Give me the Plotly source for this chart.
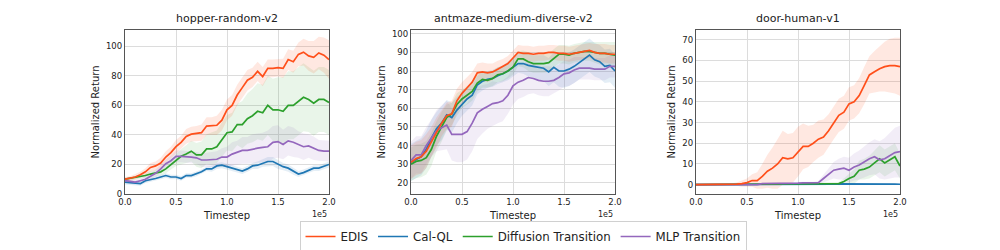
import plotly.graph_objects as go

TIMESTEPS = [i * 0.05 for i in range(41)]  # in units of 1e5

METHODS = ["EDIS", "Cal-QL", "Diffusion Transition", "MLP Transition"]
COLORS = {"EDIS": "#ff4f1a", "Cal-QL": "#1f77b4",
          "Diffusion Transition": "#2ca02c", "MLP Transition": "#9467bd"}
FILLS = {"EDIS": "rgba(255,79,26,0.13)", "Cal-QL": "rgba(31,119,180,0.12)",
         "Diffusion Transition": "rgba(44,160,44,0.10)", "MLP Transition": "rgba(148,103,189,0.12)"}

TITLES = ["hopper-random-v2", "antmaze-medium-diverse-v2", "door-human-v1"]

# ---------------- hopper-random-v2 ----------------
hopper_edis = [10, 10.5, 11.5, 13, 15, 18, 19, 21, 25, 28, 32, 35, 39, 40.5, 41, 41.5, 46, 46, 46.5, 50,
               57, 60, 67, 72, 77, 79, 83, 79.5, 85, 85, 85.5, 85, 91, 89.5, 94.5, 96, 93.5, 92.5, 95.5, 94, 91]
hopper_edis_std = [1.5, 1.5, 2, 2, 2.5, 3, 3, 3.5, 4, 4, 4.5, 4.5, 5, 5, 5, 5.5, 6, 6, 6.5, 7,
                   7, 7, 7, 7, 7, 6.5, 6.5, 6.5, 6, 6, 6, 6.5, 7, 7.5, 8, 9, 10, 11, 11, 12, 13]
hopper_calql = [8, 7.5, 7.5, 7, 9, 9.5, 10.5, 11.5, 12.5, 11.5, 11.5, 10.5, 12.5, 12.5, 13.5, 15, 17, 17, 19, 19.5,
                18.5, 17.5, 16.5, 15.5, 17, 19, 19.5, 21, 22, 22, 20, 18.5, 17.5, 15.5, 13.5, 14.5, 16, 17.5, 17.5, 19, 20]
hopper_calql_std = [1.5, 1.5, 1.5, 1.5, 1.5, 1.5, 1.5, 1.5, 1.5, 1.5, 1.5, 1.5, 1.5, 1.5, 1.5, 1.5, 1.5, 2, 2, 2,
                    2, 2, 2, 2, 2, 2, 2.5, 2.5, 3, 3, 3, 2.5, 2.5, 2.5, 2, 2, 2, 2, 2, 2, 2]
hopper_diff = [10, 10.5, 11, 12, 12.5, 13.5, 14, 15, 17, 20, 23, 25.5, 27, 29, 26.5, 26.5, 30.5, 30.5, 32, 37,
               41.5, 42, 47, 47, 51, 53, 56, 55, 60, 57, 57, 56, 60, 60, 63, 65.5, 64, 61.5, 64, 64, 62]
hopper_diff_std = [1, 1, 1, 1.5, 1.5, 2, 2, 2.5, 3, 3.5, 4, 5, 6, 7, 8, 9, 10, 11, 11, 11.5,
                   12, 13, 14, 16, 17, 18, 19, 19, 20, 21, 22, 23, 23, 23, 23, 23, 22, 22, 22, 22, 22]
hopper_mlp = [9, 8.5, 8, 9, 10, 12, 14, 17, 20.5, 22.5, 25.5, 25.5, 25.5, 25, 24.5, 23, 23, 23.5, 23.5, 25,
              25, 27, 28, 29.5, 29.5, 30.5, 31, 31.5, 32, 35, 35.5, 33.5, 36, 35, 33.5, 32, 32.5, 31, 29.5, 29, 29]
hopper_mlp_std = [1.5, 1.5, 1.5, 1.5, 2, 2, 2.5, 3, 3, 3.5, 4, 4, 4, 4, 4, 4.5, 5, 5, 5.5, 6,
                  7, 8, 8, 9, 9, 10, 10, 10, 11, 11, 11, 10, 10, 10, 9, 9, 8, 8, 7, 7, 7]

# ---------------- antmaze-medium-diverse-v2 ----------------
ant_edis = [31, 33, 34, 37, 42, 47, 52, 56, 57, 64, 68, 71, 74, 79, 79.5, 79, 79.5, 81, 82.5, 84,
            87, 90, 89.5, 89.5, 89, 89.5, 89.5, 90, 90, 89.5, 89.5, 89, 89.5, 90, 90.5, 91, 90, 89.5, 89.5, 89, 89]
ant_edis_std = [9, 9, 9, 9, 8, 8, 7, 7, 7, 6.5, 6, 6, 5.5, 5, 5, 5, 4.5, 4.5, 4, 4,
                4, 4, 4, 4, 4, 4, 4, 4, 4, 4, 4, 4, 4, 4, 4, 4, 4.5, 5, 5, 5, 5]
ant_calql = [31, 32.5, 34, 38, 44, 49, 52, 56.5, 55, 59, 62, 65, 67, 72.5, 74.5, 75.5, 76, 77.5, 78.5, 80,
             82, 84, 84, 83, 82.5, 82, 81.5, 79.5, 82, 80, 80, 81, 82.5, 84.5, 86.5, 88.5, 86, 85, 82.5, 83, 80]
ant_calql_std = [10, 10, 10, 10, 10, 9, 9, 8, 8, 7, 6, 6, 5.5, 5, 5, 4.5, 4.5, 4.5, 4.5, 5,
                 5, 5, 5.5, 6, 6, 6.5, 7, 7.5, 8, 8.5, 9, 9, 9, 9, 9, 9, 9, 9, 9, 9, 9]
ant_diff = [30, 31.5, 32, 33.5, 38, 45, 50, 55, 57, 62, 65, 67, 69, 73.5, 75.5, 75, 76, 78, 78.5, 80,
            82, 86.5, 86.5, 85, 84, 84, 84, 84.5, 87, 89, 89, 88.5, 89.5, 90, 90.5, 90.5, 90, 89.5, 89.5, 89, 88.5]
ant_diff_std = [9, 9, 9, 9, 9, 8, 8, 7, 6, 6, 5, 5, 5, 4.5, 4.5, 4, 4, 4, 4, 4,
                4, 4, 4.5, 5, 5, 5, 5, 5, 5, 5, 5, 5, 5, 5, 5, 5, 5.5, 6, 6, 6.5, 7]
ant_mlp = [32, 35, 35, 40, 44, 48, 49.5, 51, 46, 46, 46, 47.5, 52, 57.5, 59.5, 61, 62.5, 63, 64, 67,
           72, 74, 75, 76.5, 76, 75, 74.5, 74.5, 75, 76.5, 78.5, 79, 80.5, 81.5, 81.5, 81.5, 81, 81, 81, 82.5, 82.5]
ant_mlp_std = [10, 10, 10, 10, 10, 11, 12, 13, 14, 15, 15, 15, 15, 14, 13, 12, 12, 11, 11, 10,
               10, 9, 9, 9, 8, 8, 8, 8, 7, 7, 7, 7, 7, 6, 6, 6, 6, 6, 6, 6, 6]

# ---------------- door-human-v1 ----------------
door_edis = [0, 0, 0, 0, 0, 0, 0.1, 0.2, 0.3, 0.5, 1, 2, 2, 4, 6.5, 8, 10, 13, 12.5, 13,
             16, 18.5, 18.5, 20, 22, 23, 26, 30, 33.5, 35, 39, 40, 43, 48, 53, 54.5, 56, 57, 57.5, 57.5, 57]
door_edis_std = [0.1, 0.1, 0.1, 0.1, 0.2, 0.3, 0.3, 0.5, 0.8, 1.5, 2, 3, 4, 6, 8, 10, 12, 13, 12, 12,
                 12, 11, 10, 9, 9, 8.5, 8, 8, 8, 8, 8, 8, 8.5, 9, 9, 10, 11, 12, 13, 13.5, 14]
door_calql = [0, 0, 0, 0, 0, 0, 0, 0, 0, 0, 0, 0, 0, 0, 0, 0.1, 0.1, 0.1, 0.1, 0.1,
              0.1, 0.1, 0.2, 0.2, 0.2, 0.3, 0.3, 0.3, 0.4, 0.4, 0.5, 0.5, 0.5, 0.6, 0.6, 0.5, 0.4, 0.4, 0.3, 0.3, 0.2]
door_calql_std = [0.1] * 20 + [0.2] * 21
door_diff = [0, 0, 0, 0, 0, 0, 0, 0, 0, 0, 0, 0, 0, 0, 0.1, 0.2, 0.3, 0.4, 0.4, 0.5,
             0.5, 0.5, 0.5, 0.5, 0.6, 0.6, 0.7, 0.7, 0.5, 1.5, 3, 4, 7, 7.5, 8.5, 10.5, 12.5, 10.5, 12, 13.5, 9]
door_diff_std = [0.1] * 20 + [0.3, 0.3, 0.3, 0.3, 0.4, 0.5, 0.5, 0.5, 0.8, 1.5, 2.5, 3.5, 4.5, 5, 5.5, 6, 6.5, 6.5, 6.5, 6.5, 6]
door_mlp = [0, 0, 0, 0, 0, 0, 0, 0, 0, 0, 0, 0, 0, 0.5, 0.5, 0.5, 0.6, 0.7, 0.8, 0.8,
            0.8, 0.9, 0.9, 0.9, 1, 3, 5, 7, 7.5, 8, 7, 8.5, 9.5, 11, 12.5, 13.5, 12, 12.5, 14, 15.5, 16]
door_mlp_std = [0.1] * 13 + [0.5, 0.5, 0.5, 0.5, 0.5, 0.5, 0.5, 0.5, 0.5, 0.5, 0.5, 0.8, 2, 3, 4, 5, 5.5, 6, 6.5, 7, 7.5, 8, 8.5, 9, 10, 11, 12, 12.5]

PANELS = [
    {"EDIS": (hopper_edis, hopper_edis_std), "Cal-QL": (hopper_calql, hopper_calql_std),
     "Diffusion Transition": (hopper_diff, hopper_diff_std), "MLP Transition": (hopper_mlp, hopper_mlp_std)},
    {"EDIS": (ant_edis, ant_edis_std), "Cal-QL": (ant_calql, ant_calql_std),
     "Diffusion Transition": (ant_diff, ant_diff_std), "MLP Transition": (ant_mlp, ant_mlp_std)},
    {"EDIS": (door_edis, door_edis_std), "Cal-QL": (door_calql, door_calql_std),
     "Diffusion Transition": (door_diff, door_diff_std), "MLP Transition": (door_mlp, door_mlp_std)},
]

Y_RANGES = [[0, 111], [14, 102], [-4.5, 74.7]]
Y_TICKS = [[0, 20, 40, 60, 80, 100], [20, 30, 40, 50, 60, 70, 80, 90, 100], [0, 10, 20, 30, 40, 50, 60, 70]]
X_TICKS = [0.0, 0.5, 1.0, 1.5, 2.0]

W, H = 1000, 250
OFF = 8  # page body margin of the browser
X_DOMAINS = [[(125 - OFF) / W, (329 - OFF) / W], [(411 - OFF) / W, (615 - OFF) / W], [(696 - OFF) / W, (900 - OFF) / W]]
Y_DOMAIN = [1 - (194 - OFF) / H, 1 - (30 - OFF) / H]

FONT = "DejaVu Sans, sans-serif"
fig = go.Figure()

draw_order = ["Cal-QL", "Diffusion Transition", "MLP Transition", "EDIS"]

for p, panel in enumerate(PANELS):
    xa = "x" if p == 0 else f"x{p + 1}"
    ya = "y" if p == 0 else f"y{p + 1}"
    for m in draw_order:
        mean, std = panel[m]
        upper = [a + b for a, b in zip(mean, std)]
        lower = [a - b for a, b in zip(mean, std)]
        fig.add_trace(go.Scatter(
            x=TIMESTEPS + TIMESTEPS[::-1], y=upper + lower[::-1],
            fill="toself", fillcolor=FILLS[m], line=dict(width=0),
            mode="lines", hoverinfo="skip", showlegend=False, xaxis=xa, yaxis=ya))
    for m in draw_order:
        mean, _ = panel[m]
        fig.add_trace(go.Scatter(
            x=TIMESTEPS, y=mean, mode="lines", name=m,
            line=dict(color=COLORS[m], width=1.7),
            showlegend=False, xaxis=xa, yaxis=ya))

for m in METHODS:
    fig.add_trace(go.Scatter(x=[None], y=[None], mode="lines", name=m,
                             line=dict(color=COLORS[m], width=1.7), showlegend=True))

layout = dict(
    width=W, height=H, margin=dict(l=0, r=0, t=0, b=0, autoexpand=False),
    paper_bgcolor="white", plot_bgcolor="white",
    font=dict(family=FONT, size=9, color="#222"),
    showlegend=True,
    legend=dict(orientation="h", x=(523 - OFF) / W, xanchor="center", y=1 - (252 - OFF) / H, yanchor="bottom",
                bordercolor="#d0d0d0", borderwidth=1, font=dict(size=11.8, color="#222"),
                itemwidth=30, tracegroupgap=0),
)

annotations = []
for p in range(3):
    sfx = "" if p == 0 else str(p + 1)
    layout[f"xaxis{sfx}"] = dict(
        domain=X_DOMAINS[p], range=[0, 2.0], tickvals=X_TICKS, tickformat=".1f",
        showgrid=True, gridcolor="#dcdcdc", gridwidth=1.2, zeroline=False,
        showline=True, linecolor="#555", linewidth=1.2, mirror=True, automargin=False,
        ticks="", tickfont=dict(size=8.5, color="#222"),
        title=dict(text="Timestep", font=dict(size=10, color="#222"), standoff=5),
        anchor="y" + sfx)
    layout[f"yaxis{sfx}"] = dict(
        domain=Y_DOMAIN, range=Y_RANGES[p], tickvals=Y_TICKS[p],
        showgrid=True, gridcolor="#dcdcdc", gridwidth=1.2, zeroline=False,
        showline=True, linecolor="#555", linewidth=1.2, mirror=True, automargin=False,
        ticks="", tickfont=dict(size=8.5, color="#222"),
        title=dict(text="Normalized Return", font=dict(size=10, color="#222"), standoff=4),
        anchor="x" + sfx)
    xc = (X_DOMAINS[p][0] + X_DOMAINS[p][1]) / 2
    annotations.append(dict(text=TITLES[p], x=xc, y=1 - (27 - OFF) / H, xref="paper", yref="paper",
                            xanchor="center", yanchor="bottom", showarrow=False,
                            font=dict(size=11, color="#222")))
    annotations.append(dict(text="1e5", x=X_DOMAINS[p][1], y=1 - (208 - OFF) / H, xref="paper", yref="paper",
                            xanchor="right", yanchor="top", showarrow=False,
                            font=dict(size=8, color="#222")))
layout["annotations"] = annotations
fig.update_layout(**layout)
fig.write_html("out.html")
